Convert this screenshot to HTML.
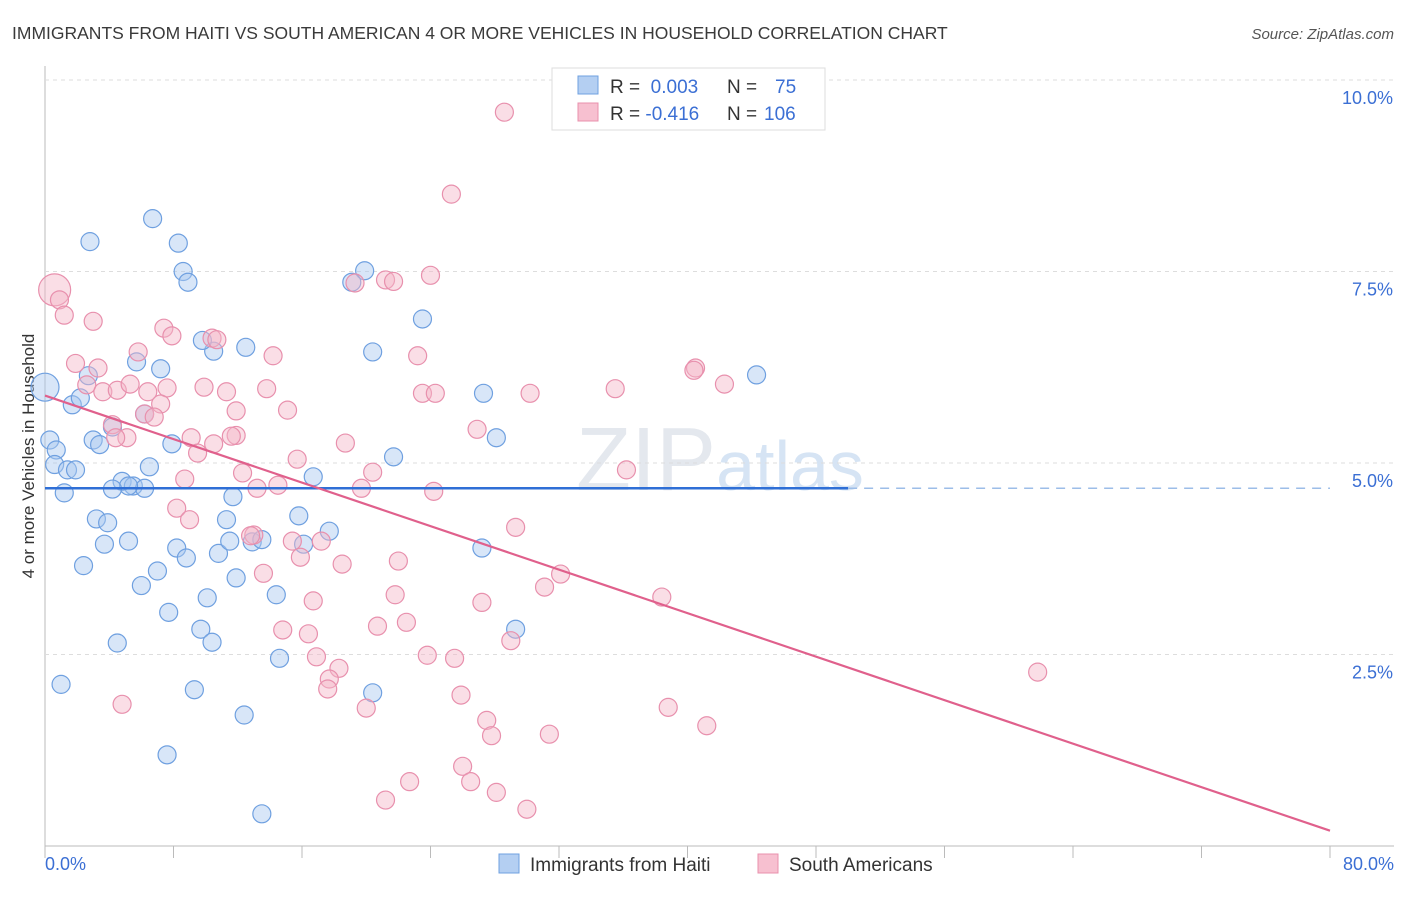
<!DOCTYPE html>
<html><head><meta charset="utf-8"><style>
body{margin:0;background:#fff;font-family:"Liberation Sans",sans-serif;}
svg text{font-family:"Liberation Sans",sans-serif;}
</style></head><body>
<svg id="c" width="1406" height="892">
<text x="12" y="39" font-size="17.5" fill="#3a3a3a">IMMIGRANTS FROM HAITI VS SOUTH AMERICAN 4 OR MORE VEHICLES IN HOUSEHOLD CORRELATION CHART</text>
<text x="1394" y="39" font-size="15" fill="#555" text-anchor="end" font-style="italic">Source: ZipAtlas.com</text>
<text x="720" y="490" font-size="90" fill="#e4e8ee" text-anchor="middle" font-family="Liberation Serif">ZIP<tspan fill="#d6e4f4" font-family="Liberation Sans" font-size="70">atlas</tspan></text>
<text transform="translate(34,456) rotate(-90)" font-size="17" fill="#333" text-anchor="middle">4 or more Vehicles in Household</text>
<g id="grid"></g><g id="pts"></g><g id="lines"></g>
<g>
<rect x="552" y="68" width="273" height="62" fill="#fff" stroke="#ddd"/>
<rect x="578" y="76" width="20" height="18" fill="#b4cff2" stroke="#6fa0e0"/>
<rect x="578" y="103" width="20" height="18" fill="#f7c0d0" stroke="#e890ad"/>
<text x="610" y="93" font-size="19" fill="#333">R = <tspan fill="#3b6fd4">&#160;0.003</tspan><tspan x="727">N = </tspan><tspan x="775" fill="#3b6fd4">75</tspan></text>
<text x="610" y="120" font-size="19" fill="#333">R = <tspan fill="#3b6fd4">-0.416</tspan><tspan x="727">N = </tspan><tspan x="764" fill="#3b6fd4">106</tspan></text>
</g>
<g>
<rect x="499" y="854" width="20" height="19" fill="#b4cff2" stroke="#6fa0e0"/>
<text x="530" y="871" font-size="19" fill="#333">Immigrants from Haiti</text>
<rect x="758" y="854" width="20" height="19" fill="#f7c0d0" stroke="#e890ad"/>
<text x="789" y="871" font-size="19" fill="#333">South Americans</text>
</g>
</svg>
<script>
const yTicks=[2.5,5.0,7.5,10.0];
const xTickLabels=["0.0%","80.0%"];
const blueX=[0,0.3,0.7,0.6,1.4,1.9,1.2,1.7,2.2,2.7,2.8,6.7,8.3,8.6,8.9,5.7,7.2,6.2,4.2,3.0,3.4,6.5,7.9,4.8,5.5,6.2,5.2,4.2,3.2,3.9,3.7,5.2,2.4,8.2,8.8,10.8,11.7,11.3,11.5,12.9,13.5,11.9,10.1,7.0,6.0,7.7,9.7,10.4,4.5,1.0,9.3,14.6,12.4,7.6,13.5,14.4,15.8,16.1,17.7,16.7,19.9,19.1,20.4,23.5,21.7,27.3,28.1,27.2,29.3,20.4,44.3,12.5,10.5,9.8];
const blueY=[5.99,5.30,5.17,4.98,4.91,4.91,4.61,5.76,5.85,6.14,7.89,8.19,7.87,7.50,7.36,6.32,6.23,5.64,5.47,5.30,5.24,4.95,5.25,4.76,4.70,4.67,4.70,4.66,4.27,4.22,3.94,3.98,3.66,3.89,3.76,3.82,4.56,4.26,3.98,3.97,4.00,3.50,3.24,3.59,3.40,3.05,2.83,2.66,2.65,2.11,2.04,2.45,1.71,1.19,0.42,3.28,4.31,3.94,4.11,4.82,7.51,7.36,6.45,6.88,5.08,5.91,5.33,3.89,2.83,2.00,6.15,6.51,6.46,6.60];
const pinkX=[0.6,0.9,1.2,3.0,1.9,3.3,2.6,3.6,4.5,5.3,6.4,7.6,7.2,6.2,6.8,5.8,7.4,7.9,10.4,10.7,9.9,11.3,13.8,14.2,11.9,11.9,11.6,10.5,9.1,9.5,4.2,5.1,4.4,8.7,8.2,9.0,12.3,13.2,14.5,15.7,15.1,18.7,20.4,19.7,21.2,19.3,21.7,24.0,23.2,23.5,24.3,25.3,28.6,30.2,26.9,24.2,36.2,35.5,40.5,40.4,42.3,13.0,13.6,15.4,15.9,17.2,18.5,12.8,22.0,29.3,21.8,16.7,22.5,20.7,14.8,16.4,27.2,31.1,32.1,38.4,29.0,23.8,25.5,16.9,18.3,17.7,17.6,25.9,20.0,27.5,27.8,31.4,38.8,41.2,61.8,26.0,26.5,22.7,28.1,21.2,30.0,4.8];
const pinkY=[7.26,7.13,6.93,6.85,6.30,6.24,6.02,5.93,5.95,6.03,5.93,5.98,5.77,5.64,5.60,6.45,6.76,6.66,6.63,6.61,5.99,5.93,5.97,6.40,5.68,5.36,5.35,5.25,5.33,5.13,5.50,5.33,5.33,4.79,4.41,4.26,4.87,4.67,4.71,5.05,5.69,5.26,4.88,4.67,7.39,7.35,7.37,7.45,6.40,5.91,5.91,8.51,9.58,5.91,5.44,4.63,4.91,5.97,6.24,6.21,6.03,4.06,3.56,3.98,3.77,3.98,3.68,4.05,3.72,4.16,3.28,3.20,2.92,2.87,2.82,2.77,3.18,3.38,3.55,3.25,2.68,2.49,2.45,2.47,2.32,2.18,2.05,1.97,1.80,1.64,1.44,1.46,1.81,1.57,2.27,1.04,0.84,0.84,0.70,0.60,0.48,1.85];
const haitiTrend=[0.003,4.67,4.67];
const saTrend=[5.88,0.2];
const X0=45,X1=1330,Y0=846;
const sx=v=>X0+(v/80)*(X1-X0);
const sy=v=>Y0-v*76.6;
const NS="http://www.w3.org/2000/svg";
function mk(tag,attrs,parent){const e=document.createElementNS(NS,tag);for(const k in attrs)e.setAttribute(k,attrs[k]);document.getElementById(parent).appendChild(e);return e;}
let ax=mk('line',{x1:X0,y1:66,x2:X0,y2:Y0,stroke:'#bbb'},'grid');


let bx=mk('line',{x1:X0,y1:Y0,x2:1394,y2:Y0,stroke:'#bbb'},'grid');


yTicks.forEach(t=>{
 const g=mk('line',{x1:X0,y1:sy(t),x2:1394,y2:sy(t),stroke:'#ddd','stroke-dasharray':'4,4'},'grid');
 
 
 const tx=mk('text',{x:1393,y:sy(t)+24,'font-size':18,fill:'#3b6fd4','text-anchor':'end'},'grid');
 tx.textContent=t.toFixed(1)+'%';
 
 
});
for(let i=0;i<=10;i++){
 const t=mk('line',{x1:sx(i*8),y1:Y0,x2:sx(i*8),y2:Y0+12,stroke:'#bbb'},'grid');
 
 
}
[[0,'start',X0],[80,'end',1394]].forEach((a,i)=>{
 const tx=mk('text',{x:a[2],y:870,'font-size':18,fill:'#3b6fd4','text-anchor':a[1]},'grid');
 tx.textContent=xTickLabels[i];
 
 
});
function pts(xs,ys,fill,stroke,name){
 xs.forEach((x,i)=>{
  const r=(i===0)?(name==='haiti-point'?14:16):9;
  const c=mk('circle',{cx:sx(x),cy:sy(ys[i]),r:r,fill:fill,'fill-opacity':0.45,stroke:stroke,'stroke-width':1.2},'pts');
  
  
 });
}
pts(blueX,blueY,'#a9c8f0','#6fa0e0','haiti-point');
pts(pinkX,pinkY,'#f4b6c8','#e890ad','south-american-point');
let l1=mk('line',{x1:sx(0),y1:sy(haitiTrend[1]),x2:sx(50),y2:sy(haitiTrend[2]),stroke:'#2f6fd6','stroke-width':2.5},'lines');


let l2=mk('line',{x1:sx(50),y1:sy(haitiTrend[2]),x2:sx(80),y2:sy(haitiTrend[2]),stroke:'#9cbde8','stroke-width':1.5,'stroke-dasharray':'9,7'},'lines');


let l3=mk('line',{x1:sx(0),y1:sy(saTrend[0]),x2:sx(80),y2:sy(saTrend[1]),stroke:'#e0608c','stroke-width':2.2},'lines');


</script>
</body></html>
